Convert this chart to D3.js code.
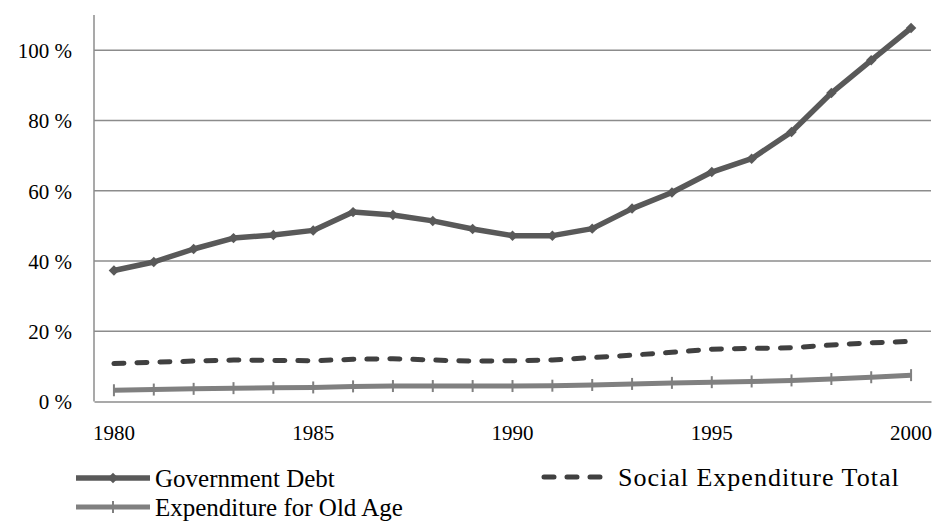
<!DOCTYPE html>
<html>
<head>
<meta charset="utf-8">
<script src="https://cdn.jsdelivr.net/npm/d3@7"></script>
<style>
  html, body { margin: 0; padding: 0; background: #fff; }
  svg { display: block; }
  text { font-family: "Liberation Serif", "DejaVu Serif", serif; fill: #000; }
</style>
</head>
<body>
<svg id="chart" width="938" height="521"></svg>
<script>
const years = d3.range(1980, 2001);
const yearLabels = [1980, 1985, 1990, 1995, 2000];
const yTicks = [0, 20, 40, 60, 80, 100];

const govDebt = [37.3, 39.7, 43.4, 46.5, 47.4, 48.7, 53.9, 53.1, 51.4, 49.1, 47.2,
  47.2, 49.2, 54.9, 59.5, 65.3, 69.1, 76.7, 87.8, 97.1, 106.3];
const socialTotal = [10.8, 11.2, 11.5, 11.8, 11.7, 11.6, 12.0, 12.2, 11.8, 11.5, 11.6,
  11.8, 12.5, 13.2, 14.0, 14.9, 15.1, 15.3, 16.1, 16.7, 17.1];
const oldAge = [3.2, 3.4, 3.6, 3.8, 3.9, 4.0, 4.3, 4.4, 4.4, 4.4, 4.4,
  4.5, 4.7, 5.0, 5.3, 5.5, 5.7, 6.0, 6.4, 6.9, 7.5];

const svg = d3.select('#chart');
const plotLeft = 94, plotRight = 931, plotTop = 15, plotBottom = 401.5;

const x = d3.scaleBand().domain(years).range([plotLeft, plotRight]);
const xc = d => x(d) + x.bandwidth() / 2;
const y = d3.scaleLinear().domain([0, 110]).range([plotBottom, plotTop]);

// Gridlines
svg.append('g')
  .selectAll('line')
  .data(yTicks.filter(t => t > 0))
  .join('line')
  .attr('x1', plotLeft).attr('x2', plotRight)
  .attr('y1', d => y(d)).attr('y2', d => y(d))
  .attr('stroke', '#8c8c8c')
  .attr('stroke-width', 1.5);

// Axes
const yAxis = svg.append('g')
  .attr('transform', `translate(${plotLeft},0)`)
  .call(d3.axisLeft(y).tickValues(yTicks).tickSize(0).tickPadding(22)
    .tickFormat(d => d + ' %'));
yAxis.select('.domain').remove();
yAxis.selectAll('text').attr('font-size', 21).attr('dy', '0.35em')
  .style('font-family', '"Liberation Serif", serif');

svg.append('line')
  .attr('x1', plotLeft).attr('x2', plotLeft)
  .attr('y1', plotTop).attr('y2', plotBottom)
  .attr('stroke', '#8c8c8c').attr('stroke-width', 1.5);

const xAxis = svg.append('g')
  .attr('transform', `translate(0,${plotBottom})`)
  .call(d3.axisBottom(x).tickValues(yearLabels).tickSize(0).tickPadding(24));
xAxis.select('.domain')
  .attr('stroke', '#8c8c8c').attr('stroke-width', 1.5);
xAxis.selectAll('text').attr('font-size', 21)
  .style('font-family', '"Liberation Serif", serif');

const line = d3.line().x((d, i) => xc(years[i])).y(d => y(d));

// Expenditure for Old Age
svg.append('path')
  .datum(oldAge)
  .attr('d', line)
  .attr('fill', 'none')
  .attr('stroke', '#808080')
  .attr('stroke-width', 5);
svg.append('g')
  .selectAll('line')
  .data(oldAge)
  .join('line')
  .attr('x1', (d, i) => xc(years[i])).attr('x2', (d, i) => xc(years[i]))
  .attr('y1', d => y(d) - 6).attr('y2', d => y(d) + 6)
  .attr('stroke', '#808080').attr('stroke-width', 2);

// Social Expenditure Total
svg.append('path')
  .datum(socialTotal)
  .attr('d', line)
  .attr('fill', 'none')
  .attr('stroke', '#404040')
  .attr('stroke-width', 5)
  .attr('stroke-linecap', 'round')
  .attr('stroke-dasharray', '10,13');

// Government Debt
svg.append('path')
  .datum(govDebt)
  .attr('d', line)
  .attr('fill', 'none')
  .attr('stroke', '#595959')
  .attr('stroke-width', 5.5)
  .attr('stroke-linejoin', 'round');
const diamond = d3.symbol().type(d3.symbolDiamond2).size(70);
svg.append('g')
  .selectAll('path')
  .data(govDebt)
  .join('path')
  .attr('d', diamond)
  .attr('transform', (d, i) => `translate(${xc(years[i])},${y(d)})`)
  .attr('fill', '#595959');

// Legend
const leg = svg.append('g');

// Government Debt
leg.append('line').attr('x1', 76).attr('x2', 150).attr('y1', 478).attr('y2', 478)
  .attr('stroke', '#595959').attr('stroke-width', 5.5);
leg.append('path').attr('d', diamond).attr('transform', 'translate(113,478)')
  .attr('fill', '#595959');
leg.append('text').attr('x', 155).attr('y', 478).attr('dy', '0.35em')
  .attr('font-size', 25).text('Government Debt');

// Social Expenditure Total
leg.append('line').attr('x1', 544).attr('x2', 601).attr('y1', 477).attr('y2', 477)
  .attr('stroke', '#404040').attr('stroke-width', 5)
  .attr('stroke-linecap', 'round').attr('stroke-dasharray', '10,13');
leg.append('text').attr('x', 618).attr('y', 477).attr('dy', '0.35em')
  .attr('font-size', 26).attr('letter-spacing', 1).text('Social Expenditure Total');

// Expenditure for Old Age
leg.append('line').attr('x1', 76).attr('x2', 150).attr('y1', 507).attr('y2', 507)
  .attr('stroke', '#808080').attr('stroke-width', 5);
leg.append('line').attr('x1', 113).attr('x2', 113).attr('y1', 501).attr('y2', 513)
  .attr('stroke', '#808080').attr('stroke-width', 2);
leg.append('text').attr('x', 155).attr('y', 507).attr('dy', '0.35em')
  .attr('font-size', 25).text('Expenditure for Old Age');
</script>
</body>
</html>
